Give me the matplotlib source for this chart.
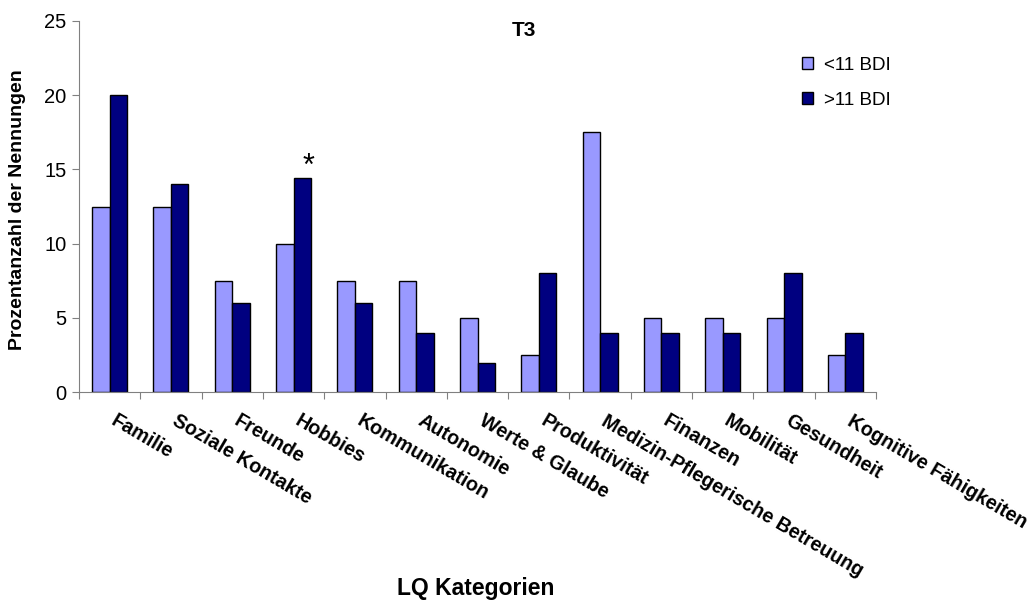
import numpy as np
import matplotlib
matplotlib.use('Agg')
import matplotlib.pyplot as plt
import matplotlib.transforms as mtransforms
from matplotlib.patches import Patch

plt.rcParams['font.family'] = ['Liberation Sans', 'DejaVu Sans']

# Daten
kategorien = ['Familie', 'Soziale Kontakte', 'Freunde', 'Hobbies', 'Kommunikation',
              'Autonomie', 'Werte & Glaube', 'Produktivität',
              'Medizin-Pflegerische Betreuung', 'Finanzen', 'Mobilität',
              'Gesundheit', 'Kognitive Fähigkeiten']
unter_11 = [12.5, 12.5, 7.5, 10, 7.5, 7.5, 5, 2.5, 17.5, 5, 5, 5, 2.5]
ueber_11 = [20, 14, 6, 14.4, 6, 4, 2, 8, 4, 4, 4, 8, 4]
serien = ['<11 BDI', '>11 BDI']
yticks = [0, 5, 10, 15, 20, 25]

hell = '#9999FF'
dunkel = '#000080'
grau = '#808080'

fig = plt.figure(figsize=(10.34, 6.04), dpi=100)
ax = fig.add_axes([79 / 1034, 1 - 392.3 / 604, 797 / 1034, 371.6 / 604])

x = np.arange(len(kategorien))
w = 0.285
ax.bar(x - w / 2, unter_11, w, color=hell, edgecolor='black', linewidth=1)
ax.bar(x + w / 2, ueber_11, w, color=dunkel, edgecolor='black', linewidth=1)

ax.set_xlim(-0.5, len(kategorien) - 0.5)
ax.set_ylim(0, 25)
ax.set_yticks(yticks)
ax.set_xticks(np.arange(len(kategorien) + 1) - 0.5)
ax.set_xticklabels([])
ax.tick_params(axis='y', labelsize=14.5, length=5, color=grau, pad=4)
ax.tick_params(axis='x', length=5, color=grau)
for s in ['top', 'right']:
    ax.spines[s].set_visible(False)
for s in ['left', 'bottom']:
    ax.spines[s].set_color(grau)

# Kategorie-Beschriftungen schraeg
trans = ax.get_xaxis_transform() + mtransforms.ScaledTranslation(8 / 100, -19 / 100, fig.dpi_scale_trans)
for i, name in enumerate(kategorien):
    ax.text(i, 0, name, transform=trans, rotation=-30.5, rotation_mode='anchor',
            ha='left', va='top', fontsize=14.2, fontweight='bold')

# Signifikanz
ax.text(3 + 0.24, ueber_11[3] + 0.2, '*', fontsize=22, ha='center', va='baseline')

fig.text(524 / 1034, 1 - 30 / 604, 'T3', fontsize=15, fontweight='bold', ha='center', va='center')
fig.text(18 / 1034, 1 - 210 / 604, 'Prozentanzahl der Nennungen', fontsize=14, fontweight='bold',
         rotation=90, ha='center', va='center')
fig.text(476 / 1034, 1 - 589 / 604, 'LQ Kategorien', fontsize=16.5, fontweight='bold',
         ha='center', va='center')

handles = [Patch(facecolor=hell, edgecolor='black'), Patch(facecolor=dunkel, edgecolor='black')]
fig.legend(handles, serien, loc='upper left', bbox_to_anchor=(802 / 1034, 1 - 57 / 604),
           frameon=False, fontsize=13.5, handlelength=0.6, handleheight=0.6,
           handletextpad=0.6, labelspacing=0.95, borderpad=0, borderaxespad=0)

plt.savefig('out.png', dpi=100)
